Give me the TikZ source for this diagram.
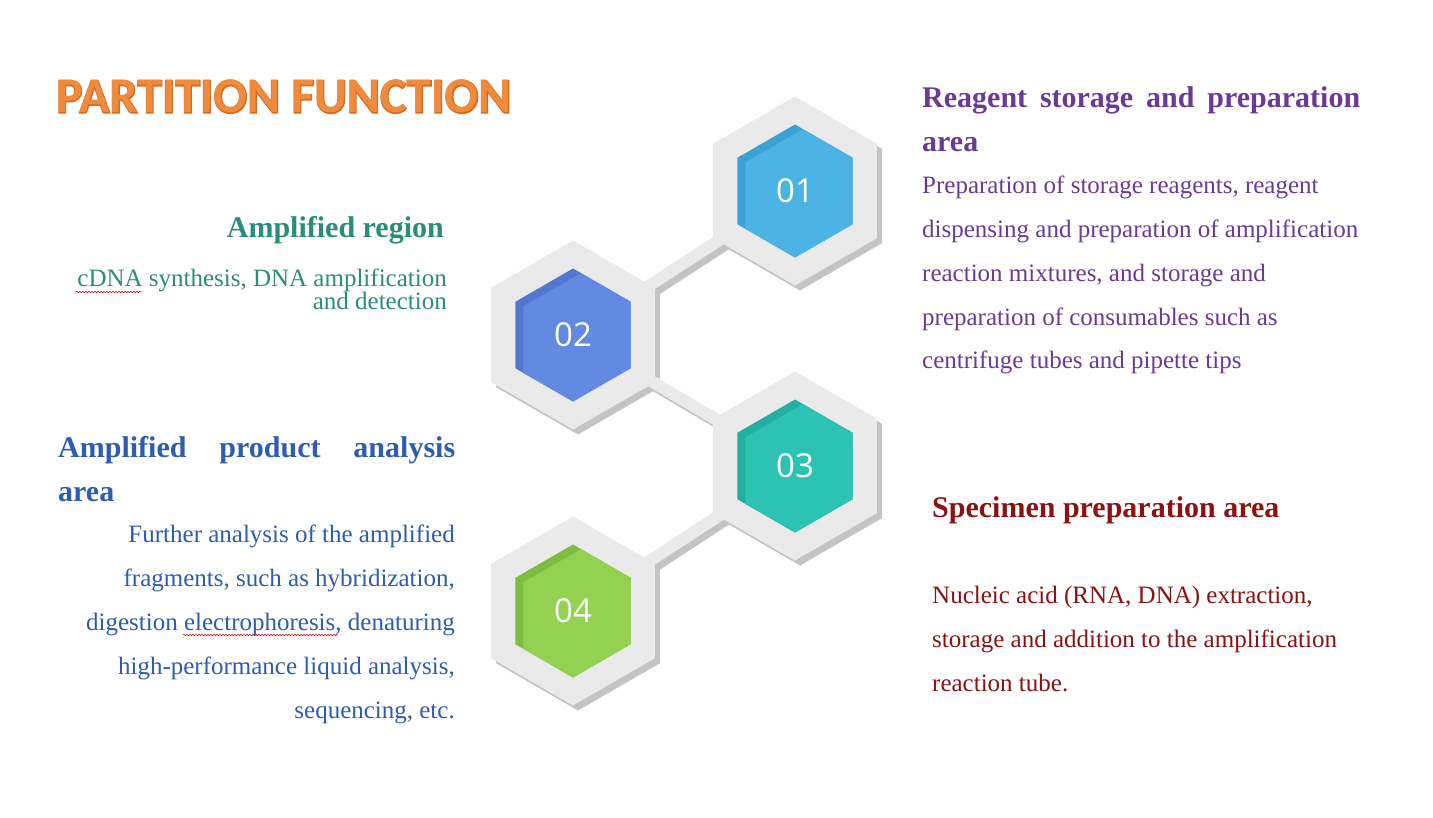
\documentclass[tikz,border=0pt]{standalone}
\usepackage{fontspec}
\setmainfont{Liberation Serif}
\newfontfamily\numfont{Open Sans}
\newfontfamily\titlefont{Carlito}
\newfontfamily\titleedge{Carlito}[BoldFeatures={FakeBold=3}]
\usepackage{xcolor}
\usepackage{tikz}
\usetikzlibrary{shapes.geometric, positioning, calc, decorations.pathmorphing}

\definecolor{hexgray}{HTML}{EAEAEA}
\definecolor{hexshadow}{HTML}{C4C4C4}
\definecolor{blueA}{HTML}{4BB4E5}
\definecolor{blueAd}{HTML}{3CA2D4}
\definecolor{blueB}{HTML}{628AE2}
\definecolor{blueBd}{HTML}{5277CF}
\definecolor{tealC}{HTML}{2CC3B5}
\definecolor{tealCd}{HTML}{23AEA2}
\definecolor{greenD}{HTML}{93D150}
\definecolor{greenDd}{HTML}{7EBD3F}
\definecolor{titleorange}{HTML}{F08A3C}
\definecolor{titleline}{HTML}{D96A1F}
\definecolor{reagentpurple}{HTML}{6B3A94}
\definecolor{ampgreen}{HTML}{2B8C7B}
\definecolor{prodblue}{HTML}{2E5CAE}
\definecolor{specred}{HTML}{8A1212}

\pgfdeclarelayer{shade}
\pgfdeclarelayer{link}
\pgfsetlayers{shade,link,main}

\begin{document}
\begin{tikzpicture}[
  x=1pt, y=-1pt,
  % hexagon styles
  hexshape/.style={regular polygon, regular polygon sides=6, shape border rotate=30,
                   inner sep=0pt, outer sep=0pt},
  hexout/.style={hexshape, minimum size=189pt, fill=hexgray},
  hexin/.style 2 args={hexshape, minimum size=133pt, fill=#2, text=white,
                       font=\numfont\fontsize{33}{33}\selectfont,
                       path picture={\fill[#1] ([xshift=8pt, yshift=-4.6pt]path picture bounding box.center)
                         ++(0,-66.5) -- ++(57.6,33.25) -- ++(0,66.5) -- ++(-57.6,33.25)
                         -- ++(-57.6,-33.25) -- ++(0,-66.5) -- cycle;}},
  bar/.style={line width=12pt, draw=hexgray},
  % text styles
  head/.style={inner sep=0pt, font=\bfseries\fontsize{30}{44}\selectfont},
  body/.style={inner sep=0pt, font=\fontsize{25}{43.8}\selectfont},
  squiggle/.style={red!85!black, line width=0.5pt, decorate,
                   decoration={snake, amplitude=0.8pt, segment length=3pt}},
]
\useasboundingbox (0,0) rectangle (1433,818);

% ---- TITLE ----
\node[anchor=base west, inner sep=0pt, text=titleline,
      font=\titleedge\bfseries\fontsize{50}{50}\selectfont] (titleback) at (56,113) {PARTITION FUNCTION};
\node[anchor=base west, inner sep=0pt, text=titleorange,
      font=\titlefont\bfseries\fontsize{50}{50}\selectfont] (title) at (56,113) {PARTITION FUNCTION};

% ---- HEXAGONS ----
\node[hexout] (h1) at (795,191) {};
\node[hexout] (h2) at (573,335) {};
\node[hexout] (h3) at (795,466) {};
\node[hexout] (h4) at (573,611) {};

\node[hexin={blueA}{blueAd}]   (n1) at (h1) {01};
\node[hexin={blueB}{blueBd}]   (n2) at (h2) {02};
\node[hexin={tealC}{tealCd}]   (n3) at (h3) {03};
\node[hexin={greenD}{greenDd}] (n4) at (h4) {04};

% shadows
\begin{pgfonlayer}{shade}
\foreach \n in {1,...,4}
  \node[hexout, fill=hexshadow] (s\n) at ([shift={(5,5)}]h\n.center) {};
\foreach \a/\b in {1/2, 2/3, 3/4}
  \draw[bar, draw=hexshadow] ([shift={(5,5)}]h\a.center) -- ([shift={(5,5)}]h\b.center);
\end{pgfonlayer}

% links
\begin{pgfonlayer}{link}
\foreach \a/\b in {1/2, 2/3, 3/4}
  \draw[bar] (h\a.center) -- (h\b.center);
\end{pgfonlayer}

% ---- 01: REAGENT ----
\node[head, text=reagentpurple, anchor=base west, text width=438pt, align=justify]
      (reagent) at (922,108) {Reagent storage and preparation area};
\node[body, text=reagentpurple, anchor=base west, align=left] (reagentbody) at (922,369)
      {Preparation of storage reagents, reagent\\
       dispensing and preparation of amplification\\
       reaction mixtures, and storage and\\
       preparation of consumables such as\\
       centrifuge tubes and pipette tips};

% ---- 02: AMPLIFIED REGION ----
\node[head, text=ampgreen, anchor=base east] (amp) at (444,238) {Amplified region};
\node[body, text=ampgreen, anchor=base east, align=right,
      font=\fontsize{25}{23}\selectfont] (ampbody) at (447,310)
      {cDNA synthesis, DNA amplification\\and detection};
\draw[squiggle] (76,292) -- (142,292);

% ---- 03: SPECIMEN ----
\node[head, text=specred, anchor=base west] (spec) at (932,517) {Specimen preparation area};
\node[body, text=specred, anchor=base west, align=left] (specbody) at (932,691)
      {Nucleic acid (RNA, DNA) extraction,\\
       storage and addition to the amplification\\
       reaction tube.};

% ---- 04: PRODUCT ANALYSIS ----
\node[head, text=prodblue, anchor=base west, text width=397pt, align=justify]
      (prod) at (58,457) {Amplified product analysis\linebreak area};
\node[body, text=prodblue, anchor=base east, align=right] (prodbody) at (455,718)
      {Further analysis of the amplified\\
       fragments, such as hybridization,\\
       digestion electrophoresis, denaturing\\
       high-performance liquid analysis,\\
       sequencing, etc.};
\draw[squiggle] (183,635) -- (338,635);

\end{tikzpicture}
\end{document}
